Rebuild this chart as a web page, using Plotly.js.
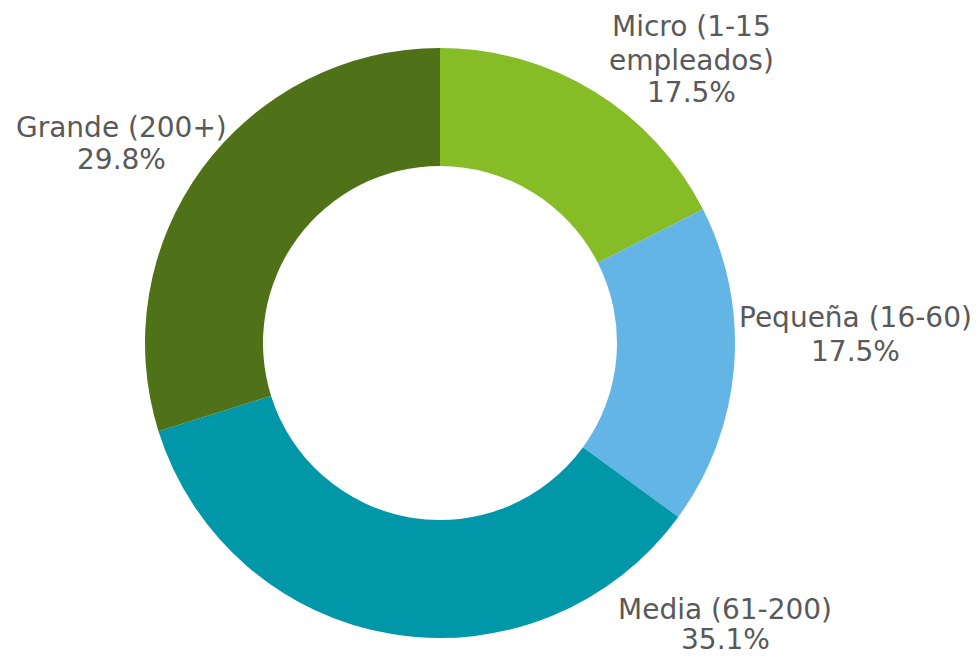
<!DOCTYPE html>
<html>
<head>
<meta charset="utf-8">
<script src="https://cdn.plot.ly/plotly-3.0.1.min.js"></script>
<style>html,body{margin:0;padding:0;background:#fff;}#chart{width:979px;height:659px;}</style>
</head>
<body>
<div id="chart"></div>
<script>
// Data
const categories = ["Micro (1-15 empleados)", "Pequeña (16-60)", "Media (61-200)", "Grande (200+)"];
const values = [17.5, 17.5, 35.1, 29.8];
const labelLines = [
  ["Micro (1-15", "empleados)", "17.5%"],
  ["Pequeña (16-60)", "17.5%"],
  ["Media (61-200)", "35.1%"],
  ["Grande (200+)", "29.8%"]
];
const colors = ["#86BC25", "#62B5E5", "#0097A9", "#4F7118"];

// Label placement (pixel positions of line centres)
const W = 979, H = 659;
const labelPos = [
  {x: 691, y: [27, 60, 93]},
  {x: 855, y: [317, 351]},
  {x: 725, y: [609, 639]},
  {x: 121, y: [127, 160]}
];

const annotations = [];
labelLines.forEach((lines, i) => {
  lines.forEach((t, j) => {
    annotations.push({
      text: t, showarrow: false, xref: 'paper', yref: 'paper',
      x: labelPos[i].x / W, y: (H - labelPos[i].y[j]) / H,
      xanchor: 'center', yanchor: 'middle',
      font: {family: 'DejaVu Sans, Verdana, sans-serif', size: 28, color: '#595959'}
    });
  });
});

const cx = 440, cy = 343, r = 295;
const trace = {
  type: 'pie',
  labels: categories,
  values: values,
  hole: 0.6,
  sort: false,
  direction: 'clockwise',
  rotation: 0,
  textinfo: 'none',
  hoverinfo: 'label+percent',
  marker: {colors: colors, line: {width: 0}},
  domain: {x: [(cx - r) / W, (cx + r) / W], y: [(H - cy - r) / H, (H - cy + r) / H]},
  showlegend: false
};

Plotly.newPlot('chart', [trace], {
  width: W, height: H,
  margin: {l: 0, r: 0, t: 0, b: 0},
  paper_bgcolor: '#ffffff',
  showlegend: false,
  annotations: annotations
}, {displayModeBar: false, staticPlot: true});
</script>
</body>
</html>
